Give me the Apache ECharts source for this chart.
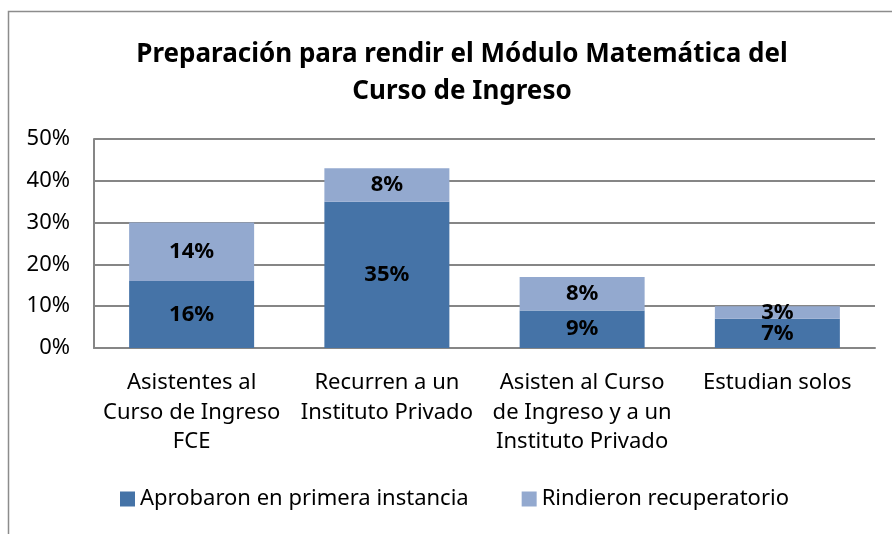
<!DOCTYPE html>
<html>
<head>
<meta charset="utf-8">
<script src="https://cdn.jsdelivr.net/npm/echarts@6/dist/echarts.min.js"></script>
<style>
  html, body { margin: 0; padding: 0; background: #fff; }
  #chart { width: 892px; height: 534px; }
</style>
</head>
<body>
<div id="chart"></div>
<script>
const categories = [
    "Asistentes al\nCurso de Ingreso\nFCE",
    "Recurren a un\nInstituto Privado",
    "Asisten al Curso\nde Ingreso y a un\nInstituto Privado",
    "Estudian solos"
]
const aprobaron = [16, 35, 9, 7]
const recuperatorio = [14, 8, 8, 3]
const yTicks = [0, 10, 20, 30, 40, 50]

const font = "'Noto Sans', 'Open Sans', sans-serif"
const gridColor = '#868686'

var chart = echarts.init(document.getElementById('chart'), null, { renderer: 'canvas' });

var option = {
    animation: false,
    backgroundColor: '#fff',
    graphic: [
        {
            type: 'rect',
            shape: { x: 8.5, y: 11.5, width: 1000, height: 1000 },
            style: { fill: 'none', stroke: '#8c8c8c', lineWidth: 1.5 },
            silent: true
        }
    ],
    title: {
        text: 'Preparación para rendir el Módulo Matemática del\nCurso de Ingreso',
        left: 457,
        top: 31,
        textAlign: 'center',
        textStyle: {
            fontFamily: font,
            fontWeight: 'bold',
            fontSize: 26,
            lineHeight: 37,
            color: '#000'
        }
    },
    grid: {
        left: 94,
        right: 17,
        top: 139,
        bottom: 186
    },
    legend: {
        bottom: 19,
        left: 115,
        itemWidth: 15,
        itemHeight: 15,
        itemGap: 53,
        icon: 'rect',
        textStyle: { fontFamily: font, fontSize: 22, color: '#000' },
        data: ['Aprobaron en primera instancia', 'Rindieron recuperatorio']
    },
    xAxis: {
        type: 'category',
        data: categories,
        axisLine: { lineStyle: { color: gridColor, width: 2 } },
        axisTick: { show: false },
        axisLabel: {
            interval: 0,
            margin: 20,
            fontFamily: font,
            fontSize: 22,
            lineHeight: 29.5,
            color: '#000'
        }
    },
    yAxis: {
        type: 'value',
        min: yTicks[0],
        max: yTicks[yTicks.length - 1],
        interval: 10,
        axisLine: { show: true, lineStyle: { color: gridColor, width: 2 } },
        axisTick: { show: false },
        splitLine: { lineStyle: { color: gridColor, width: 2 } },
        axisLabel: {
            margin: 24,
            fontFamily: font,
            fontSize: 22,
            color: '#000',
            formatter: v => v + '%'
        }
    },
    series: [
        {
            name: 'Aprobaron en primera instancia',
            type: 'bar',
            stack: 'total',
            barWidth: 125,
            data: aprobaron,
            itemStyle: { color: '#4573A7' },
            label: {
                show: true,
                position: 'inside',
                fontFamily: font,
                fontWeight: 'bold',
                fontSize: 22,
                color: '#000',
                formatter: p => p.value + '%'
            }
        },
        {
            name: 'Rindieron recuperatorio',
            type: 'bar',
            stack: 'total',
            barWidth: 125,
            data: recuperatorio,
            itemStyle: { color: '#93A9CF' },
            label: {
                show: true,
                position: 'inside',
                fontFamily: font,
                fontWeight: 'bold',
                fontSize: 22,
                color: '#000',
                formatter: p => p.value + '%'
            }
        }
    ]
};

chart.setOption(option);
</script>
</body>
</html>
